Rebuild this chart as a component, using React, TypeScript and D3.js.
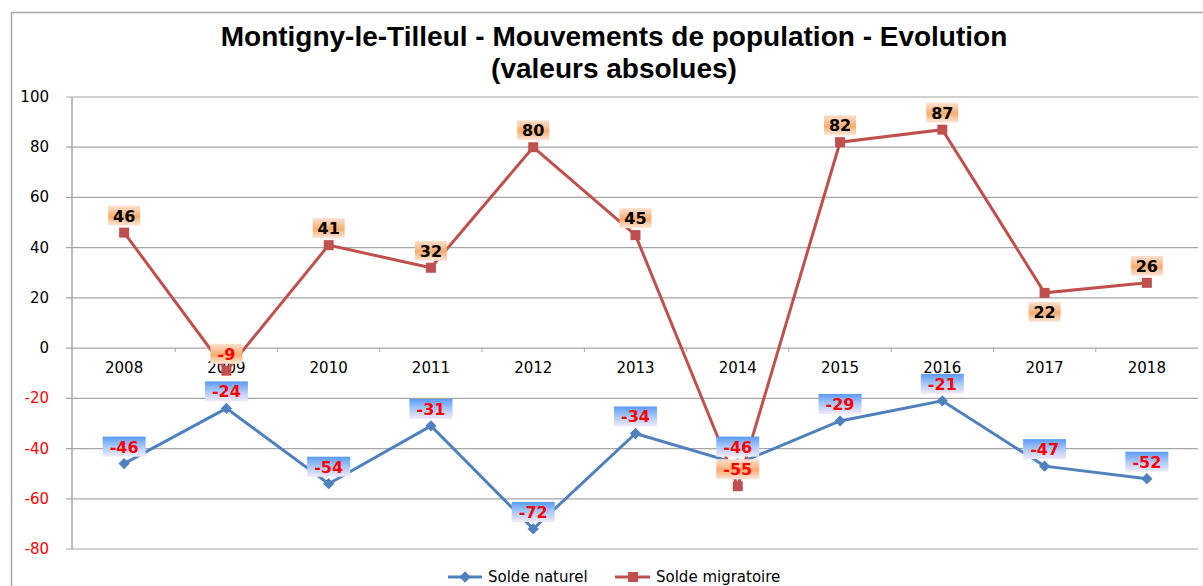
import React from 'react';
import {scaleBand, scaleLinear, line} from 'd3';

// données
const years = ['2008', '2009', '2010', '2011', '2012', '2013', '2014', '2015', '2016', '2017', '2018'];
const soldeNaturel = [-46, -24, -54, -31, -72, -34, -46, -29, -21, -47, -52];
const soldeMigratoire = [46, -9, 41, 32, 80, 45, -55, 82, 87, 22, 26];
const yTicks = [100, 80, 60, 40, 20, 0, -20, -40, -60, -80];
// étiquettes placées sous le point
const migratoireBelow = ['2017'];

const W = 1203;
const H = 586;
const grid = '#a6a6a6';
const blue = '#4f81bd';
const red = '#c0504d';
const font = 'DejaVu Sans, Verdana, sans-serif';
const titleFont = 'Liberation Sans, Arial, sans-serif';

export default function App() {
  const x = scaleBand<string>().domain(years).range([73, 1198]);
  const y = scaleLinear().domain([-80, 100]).range([549, 97]);
  const cx = (yr: string) => (x(yr) as number) + x.bandwidth() / 2;

  const path = line<number>()
    .x((d, i) => cx(years[i]))
    .y(d => y(d));

  const labelBox = (v: number, yr: string, kind: 'nat' | 'mig', below: boolean) => {
    const txt = String(v);
    const w = txt.length * 11 + 10;
    const h = 20;
    const px = cx(yr);
    const py = y(v);
    const top = below ? py + 9 : py - 7 - h;
    return (
      <g key={kind + yr}>
        <rect x={px - w / 2} y={top} width={w} height={h} fill={`url(#grad-${kind})`} />
        <text
          x={px}
          y={top + h / 2 + 6}
          textAnchor="middle"
          fontFamily={font}
          fontWeight="bold"
          fontSize={16}
          fill={v < 0 ? '#ff0000' : '#000000'}>
          {txt}
        </text>
      </g>
    );
  };

  return (
    <div style={{position: 'absolute', left: 0, top: 0}}>
      <svg width={W} height={H} style={{display: 'block', background: '#fff'}}>
        <defs>
          <linearGradient id="grad-mig" x1="0" y1="0" x2="0" y2="1">
            <stop offset="0" stopColor="#fde2d2" />
            <stop offset="0.55" stopColor="#f8ac6e" />
            <stop offset="1" stopColor="#fde8dc" />
          </linearGradient>
          <linearGradient id="grad-nat" x1="0" y1="0" x2="0" y2="1">
            <stop offset="0" stopColor="#5a9af4" />
            <stop offset="0.5" stopColor="#a9c9f8" />
            <stop offset="1" stopColor="#f3e9fa" />
          </linearGradient>
        </defs>

        {/* cadre */}
        <line x1={11} x2={W} y1={12.5} y2={12.5} stroke={grid} strokeWidth={1.5} />
        <line x1={11.5} x2={11.5} y1={12} y2={H} stroke={grid} strokeWidth={1.5} />

        {/* titre */}
        <text x={614} y={46} textAnchor="middle" fontFamily={titleFont} fontWeight="bold" fontSize={28}>
          Montigny-le-Tilleul - Mouvements de population - Evolution
        </text>
        <text x={614} y={78} textAnchor="middle" fontFamily={titleFont} fontWeight="bold" fontSize={28}>
          (valeurs absolues)
        </text>

        {/* grille et axe Y */}
        {yTicks.map(t => (
          <g key={t}>
            <line x1={66} x2={1198} y1={y(t)} y2={y(t)} stroke={grid} strokeWidth={1.2} />
            <text
              x={49}
              y={y(t) + 5}
              textAnchor="end"
              fontFamily={font}
              fontSize={15}
              fill={t < 0 ? '#ff0000' : '#000000'}>
              {t}
            </text>
          </g>
        ))}
        <line x1={72} x2={72} y1={97} y2={549} stroke={grid} strokeWidth={1.5} />

        {/* axe des catégories */}
        {years.map((yr, i) => (
          <g key={yr}>
            {i > 0 && (
              <line x1={x(yr)} x2={x(yr)} y1={y(0)} y2={y(0) + 4} stroke={grid} strokeWidth={1} />
            )}
            <text x={cx(yr)} y={y(0) + 25} textAnchor="middle" fontFamily={font} fontSize={15} fill="#000">
              {yr}
            </text>
          </g>
        ))}

        {/* séries */}
        <path d={path(soldeNaturel) || ''} fill="none" stroke={blue} strokeWidth={3} />
        <path d={path(soldeMigratoire) || ''} fill="none" stroke={red} strokeWidth={3} />
        {soldeNaturel.map((v, i) => (
          <rect
            key={'n' + i}
            x={cx(years[i]) - 4}
            y={y(v) - 4}
            width={8}
            height={8}
            fill={blue}
            transform={`rotate(45 ${cx(years[i])} ${y(v)})`}
          />
        ))}
        {soldeMigratoire.map((v, i) => (
          <rect key={'m' + i} x={cx(years[i]) - 5} y={y(v) - 5} width={10} height={10} fill={red} />
        ))}

        {/* étiquettes */}
        {soldeNaturel.map((v, i) => labelBox(v, years[i], 'nat', false))}
        {soldeMigratoire.map((v, i) => labelBox(v, years[i], 'mig', migratoireBelow.includes(years[i])))}

        {/* légende */}
        <g>
          <line x1={448} x2={482} y1={577} y2={577} stroke={blue} strokeWidth={3} />
          <rect x={461} y={573} width={8} height={8} fill={blue} transform="rotate(45 465 577)" />
          <text x={488} y={582} fontFamily={font} fontSize={15}>Solde naturel</text>
          <line x1={615} x2={650} y1={577} y2={577} stroke={red} strokeWidth={3} />
          <rect x={628} y={572} width={10} height={10} fill={red} />
          <text x={656} y={582} fontFamily={font} fontSize={15}>Solde migratoire</text>
        </g>
      </svg>
    </div>
  );
}
